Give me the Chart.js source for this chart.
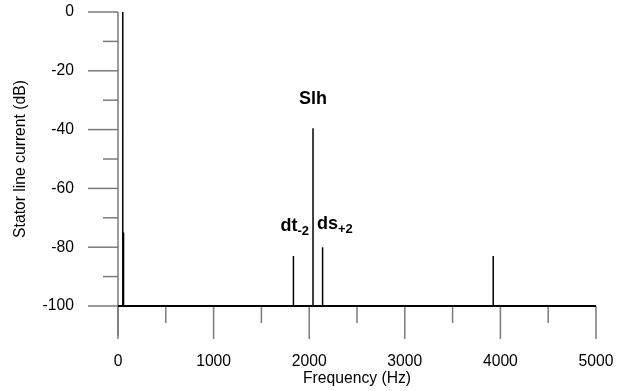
<!DOCTYPE html>
<html>
<head>
<meta charset="utf-8">
<script src="https://cdn.jsdelivr.net/npm/chart.js@4.4.1/dist/chart.umd.min.js"></script>
<style>
  html, body { margin: 0; padding: 0; background: #fff; }
</style>
</head>
<body>
<canvas id="chart" width="621" height="391"></canvas>
<script>
// spectrum lines: frequency (Hz) and level (dB)
const peakFreqs = [50, 58, 1835, 2040, 2140, 3925];
const peakLevels = [0, -75, -83, -39.5, -80, -83];
const floorLevel = -100;
const freqRange = [0, 5000];

// tick labels
const xTickLabels = [0, 1000, 2000, 3000, 4000, 5000];
const yTickLabels = [0, -20, -40, -60, -80, -100];

// names of the marked lines (index into peakFreqs)
const markNames = ['Slh', 'dt', 'ds'];
const markSubs = ['', '-2', '+2'];
const markPeaks = [3, 2, 4];

const FONT = '"Liberation Sans", Arial, sans-serif';
const FSIZE = 15.7;

// floor line
const floorData = [
  {x: freqRange[0], y: floorLevel},
  {x: freqRange[1], y: floorLevel}
];

// each spike is its own little segment, broken with a null
const spikeData = [];
for (let i = 0; i < peakFreqs.length; i++) {
  spikeData.push({x: peakFreqs[i], y: floorLevel});
  spikeData.push({x: peakFreqs[i], y: peakLevels[i]});
  spikeData.push({x: peakFreqs[i], y: null});
}

function line(ctx, x1, y1, x2, y2) {
  ctx.beginPath();
  ctx.moveTo(x1, y1);
  ctx.lineTo(x2, y2);
  ctx.stroke();
}

// axes drawn by hand: long/short ticks, y axis runs on a bit below -100
const axesPlugin = {
  id: 'axes',
  beforeDatasetsDraw(chart) {
    const {ctx} = chart;
    const x = chart.scales.x, y = chart.scales.y;
    const x0 = x.getPixelForValue(freqRange[0]);
    const yf = y.getPixelForValue(floorLevel);
    ctx.save();
    ctx.strokeStyle = '#7a7a7a';
    ctx.lineWidth = 1.5;
    line(ctx, x0, y.getPixelForValue(0), x0, y.getPixelForValue(-110));
    y.ticks.forEach(t => {
      const len = yTickLabels.includes(t.value) ? 30 : 15;
      const py = y.getPixelForValue(t.value);
      line(ctx, x0 - len, py, x0, py);
    });
    line(ctx, x0, yf, x.getPixelForValue(freqRange[1]), yf);
    x.ticks.forEach(t => {
      const len = xTickLabels.includes(t.value) ? 33 : 17;
      const px = x.getPixelForValue(t.value);
      line(ctx, px, yf, px, yf + len);
    });
    ctx.restore();
  },
  afterDatasetsDraw(chart) {
    const {ctx} = chart;
    const x = chart.scales.x, y = chart.scales.y;
    const slhX = x.getPixelForValue(peakFreqs[markPeaks[0]]);
    ctx.save();
    ctx.fillStyle = '#000';
    ctx.textBaseline = 'alphabetic';
    for (let i = 0; i < markNames.length; i++) {
      const p = markPeaks[i];
      const top = y.getPixelForValue(peakLevels[p]);
      ctx.font = 'bold 18px ' + FONT;
      const w = ctx.measureText(markNames[i]).width;
      ctx.font = 'bold 13px ' + FONT;
      const ws = ctx.measureText(markSubs[i]).width;
      let left, base;
      if (i === 0) {
        left = slhX - (w + ws) / 2;
        base = top - 24;
      } else if (i === 1) {
        left = slhX - 4 - w - ws;
        base = top - 25;
      } else {
        left = slhX + 4;
        base = top - 18;
      }
      ctx.font = 'bold 18px ' + FONT;
      ctx.fillText(markNames[i], left, base);
      ctx.font = 'bold 13px ' + FONT;
      ctx.fillText(markSubs[i], left + w, base + 4);
    }
    ctx.restore();
  }
};

new Chart(document.getElementById('chart'), {
  type: 'line',
  data: {
    datasets: [
      {
        data: floorData,
        borderColor: '#000',
        borderWidth: 2,
        pointRadius: 0,
        clip: false
      },
      {
        data: spikeData,
        borderColor: '#000',
        borderWidth: 1.5,
        pointRadius: 0,
        spanGaps: false,
        clip: false
      }
    ]
  },
  options: {
    responsive: false,
    animation: false,
    layout: {padding: {top: 12, right: 25, left: 0, bottom: 0}},
    plugins: {legend: {display: false}, tooltip: {enabled: false}},
    scales: {
      x: {
        type: 'linear',
        min: freqRange[0],
        max: freqRange[1],
        grid: {display: false, drawTicks: false},
        border: {display: false},
        ticks: {
          stepSize: 500,
          autoSkip: false,
          maxRotation: 0,
          padding: 46,
          color: '#000',
          font: {family: FONT, size: FSIZE},
          callback: v => xTickLabels.includes(v) ? String(v) : ''
        },
        title: {
          display: true,
          text: 'Frequency (Hz)',
          color: '#000',
          font: {family: FONT, size: FSIZE},
          padding: 3
        },
        afterFit: s => {
          s.height = 85;
          s.paddingLeft = 0;
          s.paddingRight = 0;
        }
      },
      y: {
        min: floorLevel,
        max: 0,
        grid: {display: false, drawTicks: false},
        border: {display: false},
        ticks: {
          stepSize: 10,
          autoSkip: false,
          padding: 44,
          color: '#000',
          font: {family: FONT, size: FSIZE},
          callback: v => yTickLabels.includes(v) ? String(v) : ''
        },
        title: {
          display: true,
          text: 'Stator line current (dB)',
          color: '#000',
          font: {family: FONT, size: FSIZE},
          padding: 11
        },
        afterFit: s => {
          s.width = 118;
          s.paddingTop = 0;
          s.paddingBottom = 0;
        }
      }
    }
  },
  plugins: [axesPlugin]
});
</script>
</body>
</html>
